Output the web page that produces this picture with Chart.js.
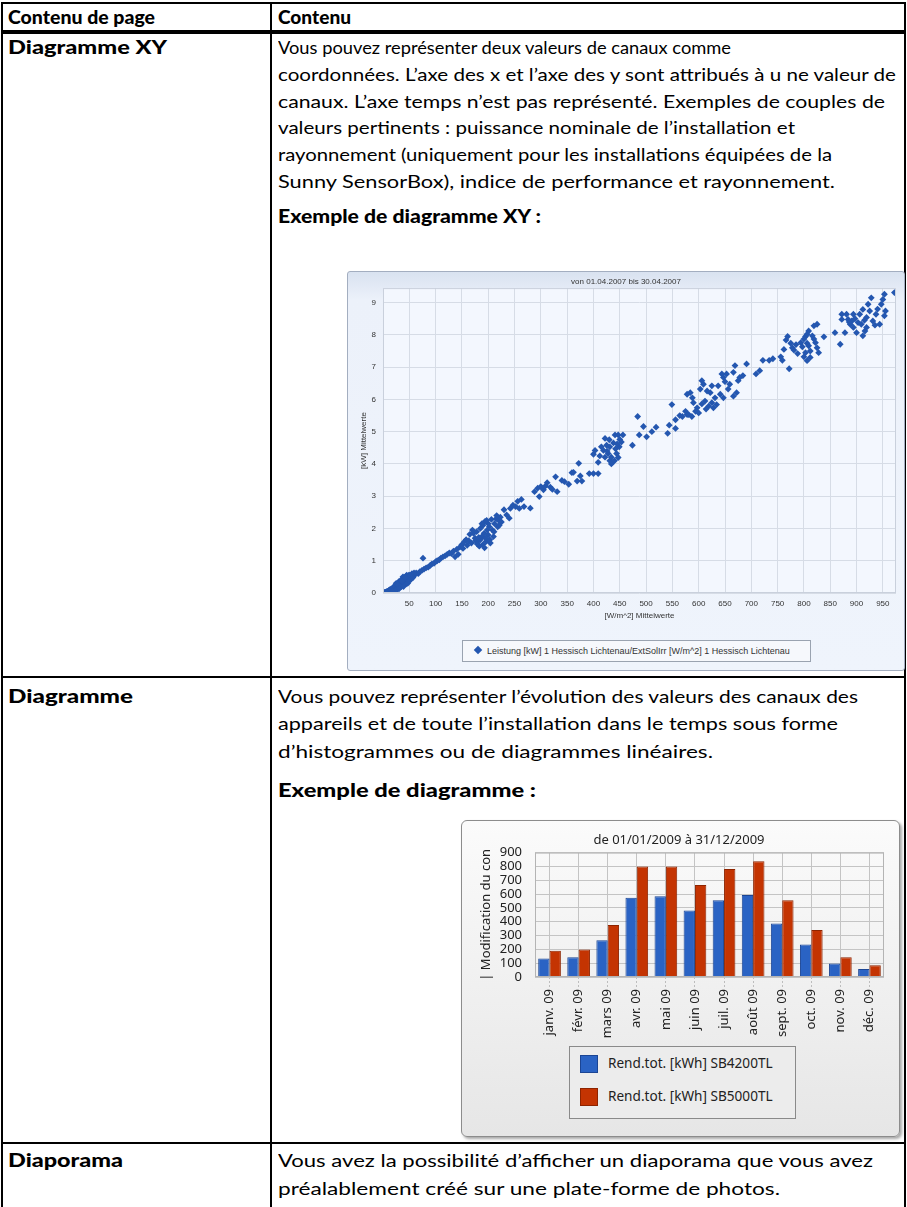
<!DOCTYPE html>
<html><head><meta charset="utf-8">
<script src="https://cdn.jsdelivr.net/npm/chart.js@4.4.1/dist/chart.umd.min.js"></script>
<style>
body{margin:0;width:907px;height:1207px;position:relative;background:#fff;overflow:hidden;font-family:Lato,"DejaVu Sans",sans-serif;color:#000}
.ln{position:absolute;white-space:nowrap;font-size:18px;line-height:20px;transform-origin:0 50%}
.b{font-family:Lato,"DejaVu Sans",sans-serif;font-weight:900;font-size:18px}
.rule{position:absolute;background:#000}
#xyBox{position:absolute;left:347px;top:271px;width:556px;height:398px;border:1px solid #a3aec0;border-radius:3px;background:linear-gradient(#d9e2f0 0px,#ecf1fa 28px,#eff4fc 100%)}
#barBox{position:absolute;left:461px;top:820px;width:437px;height:315px;border:1px solid #8c8c8c;border-radius:6px;background:linear-gradient(#fbfbfb,#e6e6e6);box-shadow:2px 2px 3px rgba(0,0,0,.35)}
canvas{position:absolute;left:0;top:0}
#xyLegend{position:absolute;left:114px;top:368px;width:347px;height:20px;border:1px solid #9aa3b0;background:#f6f8fc;font:9px "Liberation Sans",Arial,sans-serif;color:#333;white-space:nowrap}
#barLegend{position:absolute;left:107px;top:225px;width:225px;height:71px;border:1px solid #8a8a8a;background:#ececec;font:13.6px "Noto Sans","DejaVu Sans",sans-serif;color:#222;white-space:nowrap}
</style></head><body>

<div class="rule" style="left:1px;top:2px;width:905px;height:2px"></div>
<div class="rule" style="left:1px;top:30px;width:905px;height:4px"></div>
<div class="rule" style="left:1px;top:2px;width:2px;height:1205px"></div>
<div class="rule" style="left:270px;top:2px;width:2px;height:1205px"></div>
<div class="rule" style="left:904px;top:2px;width:2px;height:1205px"></div>
<div class="rule" style="left:1px;top:676px;width:905px;height:2px"></div>
<div class="rule" style="left:1px;top:1142px;width:905px;height:2px"></div>

<div class="ln b" data-w="147" style="left:8px;top:7px">Contenu de page</div>
<div class="ln b" data-w="73" style="left:278px;top:7px">Contenu</div>

<div class="ln b" data-w="159" style="left:8px;top:37px">Diagramme XY</div>
<div class="ln" data-w="453" style="left:278px;top:37px">Vous pouvez représenter deux valeurs de canaux comme</div>
<div class="ln" data-w="618" style="left:278px;top:64px">coordonnées. L’axe des x et l’axe des y sont attribués à u ne valeur de</div>
<div class="ln" data-w="607" style="left:278px;top:91px">canaux. L’axe temps n’est pas représenté. Exemples de couples de</div>
<div class="ln" data-w="517" style="left:278px;top:117px">valeurs pertinents : puissance nominale de l’installation et</div>
<div class="ln" data-w="554" style="left:278px;top:144px">rayonnement (uniquement pour les installations équipées de la</div>
<div class="ln" data-w="557" style="left:278px;top:171px">Sunny SensorBox), indice de performance et rayonnement.</div>
<div class="ln b" data-w="263" style="left:278px;top:206px">Exemple de diagramme XY :</div>

<div class="ln b" data-w="125" style="left:8px;top:686px">Diagramme</div>
<div class="ln" data-w="580" style="left:278px;top:686px">Vous pouvez représenter l’évolution des valeurs des canaux des</div>
<div class="ln" data-w="560" style="left:278px;top:713px">appareils et de toute l’installation dans le temps sous forme</div>
<div class="ln" data-w="435" style="left:278px;top:741px">d’histogrammes ou de diagrammes linéaires.</div>
<div class="ln b" data-w="258" style="left:278px;top:780px">Exemple de diagramme :</div>

<div class="ln b" data-w="115" style="left:8px;top:1150px">Diaporama</div>
<div class="ln" data-w="595" style="left:278px;top:1150px">Vous avez la possibilité d’afficher un diaporama que vous avez</div>
<div class="ln" data-w="502" style="left:278px;top:1178px">préalablement créé sur une plate-forme de photos.</div>

<div id="xyBox">
  <canvas id="xy" width="556" height="398"></canvas>
  <div id="xyLegend"></div>
</div>
<div id="barBox">
  <canvas id="bar" width="437" height="315"></canvas>
  <div id="barLegend"></div>
</div>

<script>
// ---------- XY chart data ----------
const xyTitle = "von 01.04.2007 bis 30.04.2007";
const xyXTitle = "[W/m^2] Mittelwerte";
const xyYTitle = "[kW] Mittelwerte";
const xyLabel = "Leistung [kW] 1 Hessisch Lichtenau/ExtSolIrr [W/m^2] 1 Hessisch Lichtenau";
const irradiance = [
0,1,2,3,4,5,6,7,8,9,10,11,12,13,14,15,16,17,18,19,20,21,22,23,24,25,26,27,28,29,30,31,32,33,34,35,36,37,38,39,40,41,42,43,44,45,46,47,48,49,50,52,54,56,58,60,38,42,36,44,30,26,20,
22,25,28,30,32,34,35,37,38,40,40,41,43,44,45,46,47,48,50,51,53,55,57,59,33,36,39,42,29,27,24,31,8,12,15,18,
76,
63,67,70,74,78,82,86,90,93,97,100,103,107,110,114,118,122,126,130,134,137,140,143,146,150,152,155,158,160,163,
165,168,172,175,178,180,183,185,188,190,192,194,196,198,200,202,204,206,208,210,212,215,218,220,223,225,185,195,200,190,176,
170,182,188,197,203,211,216,221,179,193,
230,235,240,242,247,252,256,259,263,268,280,288,294,297,300,
305,309,312,318,322,328,331,340,345,353,359,362,369,372,375,378,392,400,409,409,400,403,
415,419,422,422,425,428,431,431,434,434,436,440,441,442,444,447,447,449,450,453,456,438,426,445,412,430,
474,484,487,495,501,511,519,541,544,549,556,556,564,569,575,578,581,587,
594,597,600,606,612,619,625,628,634,631,622,625,609,603,606,584,588,578,616,641,637,647,653,644,666,659,669,675,678,684,691,672,666,656,647,614,590,650,
709,716,722,734,741,756,759,772,766,769,775,781,788,797,803,806,800,794,800,806,809,812,803,819,816,822,825,828,806,812,819,825,809,778,785,762,
838,859,869,878,872,872,881,884,888,891,894,900,903,909,912,916,919,906,912,919,925,922,928,931,937,944,947,950,953,955,953,972,894,886,897,915,940,935
];
const power = [
0,0.01,0,0.02,0.01,0.03,0.02,0.04,0.05,0.03,0.06,0.08,0.05,0.1,0.07,0.12,0.09,0.13,0.1,0.15,0.12,0.17,0.14,0.2,0.16,0.22,0.18,0.25,0.2,0.27,0.22,0.3,0.25,0.33,0.28,0.36,0.3,0.4,0.33,0.43,0.35,0.46,0.38,0.5,0.4,0.48,0.36,0.52,0.42,0.55,0.45,0.5,0.47,0.55,0.52,0.58,0.45,0.3,0.25,0.52,0.3,0.12,0.18,
0.22,0.3,0.15,0.35,0.18,0.4,0.2,0.28,0.5,0.25,0.45,0.32,0.38,0.28,0.55,0.42,0.3,0.5,0.38,0.55,0.42,0.6,0.48,0.62,0.22,0.38,0.2,0.48,0.24,0.1,0.08,0.14,0,0.02,0.04,0.06,
1.08,
0.62,0.6,0.66,0.7,0.74,0.78,0.8,0.86,0.9,0.92,0.97,1.0,1.03,1.08,1.12,1.15,1.2,1.24,1.22,1.3,1.12,1.35,1.2,1.42,1.5,1.38,1.6,1.65,1.48,1.62,
1.82,1.55,1.85,1.7,1.9,1.6,1.45,2.0,1.75,2.1,1.85,2.22,1.6,1.95,1.8,2.05,1.55,2.28,1.95,1.75,2.15,2.3,2.05,2.25,2.35,2.2,1.65,1.7,2.15,1.5,1.62,
1.95,1.72,2.15,2.25,1.65,1.9,2.4,2.1,1.52,1.4,
2.58,2.42,2.32,2.62,2.72,2.68,2.84,2.62,2.9,2.68,2.63,3.14,3.25,2.99,3.3,
3.2,3.32,3.42,3.28,3.21,3.6,3.14,3.49,3.45,3.37,3.73,3.74,3.47,4.02,3.63,3.47,3.7,3.7,3.7,4.05,4.3,4.42,
4.53,4.42,4.79,4.21,4.58,4.32,4.53,4.1,4.21,4.0,4.05,4.1,4.9,4.47,4.32,4.9,4.2,4.53,4.76,4.68,4.9,4.65,4.4,4.62,4.25,4.75,
4.58,5.47,4.9,5.16,4.84,5.0,5.14,4.95,5.2,5.84,5.37,5.1,5.5,5.47,5.63,5.53,5.53,5.47,
5.63,5.74,5.58,5.86,5.95,5.79,5.9,5.74,5.84,6.05,6.21,6.42,6.47,6.32,6.58,6.21,6.05,6.16,6.26,6.16,6.42,6.68,6.79,6.79,6.84,6.47,7.05,6.58,6.68,6.74,7.1,6.21,6.1,6.32,6.05,5.7,5.9,6.55,
6.79,6.89,7.21,7.21,7.26,7.32,7.21,6.95,7.84,7.95,7.74,7.53,7.42,7.63,7.95,7.74,7.32,7.76,7.87,8.02,7.66,7.5,7.45,7.87,7.97,7.76,7.6,7.45,7.2,7.3,8.28,8.33,8.12,7.6,7.7,7.55,
7.94,8.07,7.71,8.07,8.64,8.48,8.64,8.48,8.33,8.43,8.23,8.07,8.38,8.33,7.97,8.12,8.23,8.64,8.79,8.54,8.74,8.95,9.15,8.43,8.64,8.33,8.95,9.1,9.26,8.74,8.59,9.31,8.64,8.4,8.5,8.45,8.8,8.3
];
const xyColor = "#2457b0";

// ---------- Bar chart data ----------
const barTitle = "de 01/01/2009 à 31/12/2009";
const barYTitle = "| Modification du con";
const months = ["janv. 09","févr. 09","mars 09","avr. 09","mai 09","juin 09","juil. 09","août 09","sept. 09","oct. 09","nov. 09","déc. 09"];
const sb4200 = [134,143,265,574,584,482,555,593,387,236,97,58];
const sb5000 = [190,199,377,800,800,666,781,837,555,340,143,85];
const seriesNames = ["Rend.tot. [kWh] SB4200TL","Rend.tot. [kWh] SB5000TL"];
const seriesColors = ["#2a63c4","#c43402"];
const seriesBorders = ["#1b4594","#8e2400"];

// fit document text lines to the reference widths
function fitLines(){
  document.querySelectorAll('.ln[data-w]').forEach(el=>{
    el.style.transform = 'none';
    const w = el.getBoundingClientRect().width;
    el.style.transform = 'scaleX(' + (parseFloat(el.dataset.w)/w) + ')';
  });
}
fitLines();
if (document.fonts && document.fonts.ready) document.fonts.ready.then(fitLines);

// ---------- XY chart ----------
const xyPoints = irradiance.map((x,i)=>({x:x,y:power[i]}));
const plotBg = {
  id:'plotBg',
  beforeDraw(c,a,o){const {ctx,chartArea:ca}=c;ctx.save();ctx.fillStyle=o.color;ctx.fillRect(ca.left,ca.top,ca.right-ca.left,ca.bottom-ca.top);ctx.restore();},
  afterDraw(c,a,o){if(!o.frame)return;const {ctx,chartArea:ca}=c;ctx.save();ctx.strokeStyle=o.frame;ctx.lineWidth=1;ctx.strokeRect(ca.left+0.5,ca.top+0.5,ca.right-ca.left-1,ca.bottom-ca.top-1);ctx.restore();}
};
const xyFont = {family:'"Liberation Sans", Arial, sans-serif', size:8, weight:'normal'};
new Chart(document.getElementById('xy'),{
  type:'scatter',
  data:{datasets:[{label:xyLabel,data:xyPoints,backgroundColor:xyColor,borderColor:xyColor,pointStyle:'rectRot',pointRadius:3.4,borderWidth:0}]},
  options:{
    responsive:false,animation:false,
    layout:{padding:{left:8,right:8,top:0,bottom:47}},
    plugins:{
      legend:{display:false},tooltip:{enabled:false},
      title:{display:true,text:xyTitle,color:'#333',font:xyFont,padding:{top:5,bottom:1.5}},
      plotBg:{color:'#f3f7fe',frame:'#c9d0dc'}
    },
    scales:{
      x:{type:'linear',min:0,max:975,
        afterFit(s){s.height=30;},
        afterBuildTicks(s){s.ticks=s.ticks.filter(t=>t.value>0&&t.value%50===0);},
        ticks:{stepSize:50,includeBounds:false,color:'#333',font:xyFont,padding:6,maxRotation:0,autoSkip:false},
        grid:{color:'#d6dce6',drawTicks:false},border:{display:false},
        title:{display:true,text:xyXTitle,color:'#333',font:xyFont,padding:{top:0,bottom:2}}},
      y:{type:'linear',min:0,max:9.45,
        afterFit(s){s.width=27;},
        afterBuildTicks(s){s.ticks=s.ticks.filter(t=>Number.isInteger(t.value));},
        ticks:{stepSize:1,includeBounds:false,color:'#333',font:xyFont,padding:7,autoSkip:false},
        grid:{color:'#d6dce6',drawTicks:false},border:{display:false},
        title:{display:true,text:xyYTitle,color:'#333',font:xyFont,padding:{top:3,bottom:0}}}
    }
  },
  plugins:[plotBg]
});
document.getElementById('xyLegend').innerHTML =
  '<span style="position:absolute;left:12px;top:6px;width:6px;height:6px;background:'+xyColor+';transform:rotate(45deg)"></span>'+
  '<span style="position:absolute;left:24px;top:5px;line-height:10px">'+xyLabel+'</span>';

// ---------- Bar chart ----------
const barFont = {family:'"Noto Sans","DejaVu Sans",sans-serif', size:13, weight:'normal'};
new Chart(document.getElementById('bar'),{
  type:'bar',
  data:{labels:months,datasets:[
    {label:seriesNames[0],data:sb4200,backgroundColor:seriesColors[0],borderColor:seriesBorders[0],borderWidth:1},
    {label:seriesNames[1],data:sb5000,backgroundColor:seriesColors[1],borderColor:seriesBorders[1],borderWidth:1}
  ]},
  options:{
    responsive:false,animation:false,
    layout:{padding:{left:12,right:15,top:0,bottom:89}},
    datasets:{bar:{categoryPercentage:0.78,barPercentage:1}},
    plugins:{
      legend:{display:false},tooltip:{enabled:false},
      title:{display:true,text:barTitle,color:'#222',font:barFont,padding:{top:11,bottom:5}},
      plotBg:{color:'rgba(0,0,0,0)',frame:'#b4b4b4'}
    },
    scales:{
      x:{afterFit(s){s.height=70;},
        ticks:{color:'#222',font:barFont,minRotation:90,maxRotation:90,padding:2,autoSkip:false},
        grid:{offset:false,color:'#c4c4c4',borderDash:[2,2],tickBorderDash:[2,2],tickLength:10,tickColor:'#bdbdbd'},
        border:{display:false}},
      y:{min:0,max:900,
        afterFit(s){s.width=61;},
        ticks:{stepSize:100,color:'#222',font:barFont,padding:13,autoSkip:false},
        grid:{color:'#c4c4c4',borderDash:[2,2],drawTicks:false},border:{display:false},
        title:{display:true,text:barYTitle,color:'#222',font:barFont,padding:{top:4,bottom:0}}}
    }
  },
  plugins:[plotBg]
});
document.getElementById('barLegend').innerHTML = seriesNames.map((n,i)=>
  '<span style="position:absolute;left:10px;top:'+(8+i*33)+'px;width:16px;height:16px;background:'+seriesColors[i]+';border:1px solid '+seriesBorders[i]+'"></span>'+
  '<span style="position:absolute;left:38px;top:'+(6+i*33)+'px;line-height:20px">'+n+'</span>').join('');
</script>
</body></html>
